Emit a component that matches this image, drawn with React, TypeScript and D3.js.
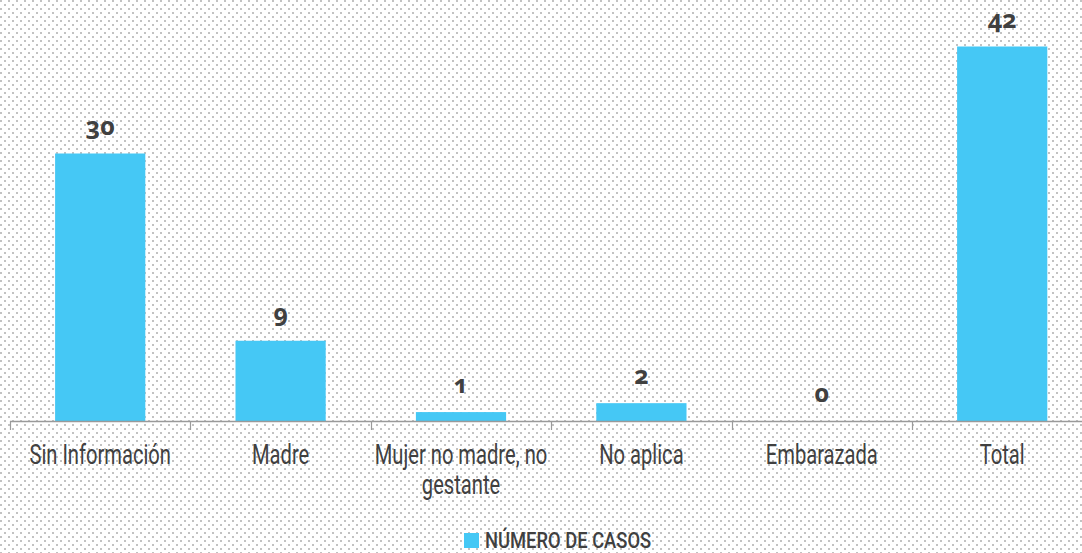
import React, { useEffect, useRef } from 'react';
import * as d3 from 'd3';

const categories = ['Sin Información', 'Madre', 'Mujer no madre, no gestante', 'No aplica', 'Embarazada', 'Total'];
const casos = [30, 9, 1, 2, 0, 42];
const seriesName = 'NÚMERO DE CASOS';

// category labels are wrapped the way the reference shows them
const labelLines: Record<string, string[]> = {
  'Mujer no madre, no gestante': ['Mujer no madre, no', 'gestante'],
};

const WIDTH = 1082;
const HEIGHT = 553;
const BAR_COLOR = '#45c8f5';
const TEXT_COLOR = '#404040';

const App: React.FC = () => {
  const svgRef = useRef<SVGSVGElement>(null);

  useEffect(() => {
    if (!svgRef.current) return;
    const svg = d3.select(svgRef.current);
    svg.selectAll('*').remove();

    // dotted background
    const defs = svg.append('defs');
    const pat = defs.append('pattern')
      .attr('id', 'dots')
      .attr('width', 8)
      .attr('height', 8)
      .attr('patternUnits', 'userSpaceOnUse');
    pat.append('rect').attr('x', 0).attr('y', 0).attr('width', 2).attr('height', 2).attr('fill', '#c2c2c2');
    pat.append('rect').attr('x', 4).attr('y', 4).attr('width', 2).attr('height', 2).attr('fill', '#c2c2c2');
    svg.append('rect').attr('width', WIDTH).attr('height', HEIGHT).attr('fill', '#fff');
    svg.append('rect').attr('width', WIDTH).attr('height', HEIGHT).attr('fill', 'url(#dots)');

    const baseY = 421;
    const x = d3.scaleBand<string>()
      .domain(categories)
      .range([10, 10 + 180.4 * categories.length])
      .paddingInner(0.5)
      .paddingOuter(0.25);

    const y = d3.scaleLinear().domain([0, 42]).range([baseY, 46.5]);

    const step = x.step();
    const left = 10;

    // bars
    svg.selectAll('rect.bar')
      .data(categories)
      .join('rect')
      .attr('class', 'bar')
      .attr('x', d => x(d) || 0)
      .attr('y', (d, i) => y(casos[i]))
      .attr('width', x.bandwidth())
      .attr('height', (d, i) => baseY - y(casos[i]))
      .attr('fill', BAR_COLOR);

    // axis line + ticks
    svg.append('line')
      .attr('x1', left).attr('x2', left + step * categories.length)
      .attr('y1', baseY + 0.5).attr('y2', baseY + 0.5)
      .attr('stroke', '#9a9a9a').attr('stroke-width', 1.5);
    d3.range(categories.length + 1).forEach(i => {
      const tx = Math.round(left + i * step) + 0.5;
      svg.append('line')
        .attr('x1', tx).attr('x2', tx)
        .attr('y1', baseY).attr('y2', baseY + 9)
        .attr('stroke', '#9a9a9a').attr('stroke-width', 1.2);
    });

    // value labels
    svg.selectAll('text.val')
      .data(categories)
      .join('text')
      .attr('class', 'val')
      .attr('x', d => (x(d) || 0) + x.bandwidth() / 2)
      .attr('y', (d, i) => y(casos[i]) - 19)
      .attr('text-anchor', 'middle')
      .attr('font-family', '"Open Sans", sans-serif')
      .attr('font-weight', 700)
      .attr('font-size', 25)
      .style('font-variant-numeric', 'oldstyle-nums')
      .attr('fill', TEXT_COLOR)
      .text((d, i) => String(casos[i]));

    // category labels (condensed)
    categories.forEach(c => {
      const cx = (x(c) || 0) + x.bandwidth() / 2;
      const lines = labelLines[c] || [c];
      const g = svg.append('g').attr('transform', `translate(${cx},464) scale(0.72,1)`);
      lines.forEach((ln, j) => {
        g.append('text')
          .attr('x', 0)
          .attr('y', j * 30)
          .attr('text-anchor', 'middle')
          .attr('font-family', 'Roboto, sans-serif')
          .attr('font-weight', 400)
          .attr('font-size', 28)
          .attr('fill', TEXT_COLOR)
          .text(ln);
      });
    });

    // legend
    svg.append('rect')
      .attr('x', 464).attr('y', 533).attr('width', 15).attr('height', 15)
      .attr('fill', BAR_COLOR);
    svg.append('g')
      .attr('transform', 'translate(485,548) scale(0.835,1)')
      .append('text')
      .attr('font-family', 'Roboto, sans-serif')
      .attr('font-weight', 500)
      .attr('font-size', 22)
      .attr('fill', TEXT_COLOR)
      .text(seriesName);
  }, []);

  return (
    <div style={{ position: 'absolute', left: 0, top: 0, width: WIDTH, height: HEIGHT, overflow: 'hidden' }}>
      <svg ref={svgRef} width={WIDTH} height={HEIGHT} style={{ display: 'block' }} />
    </div>
  );
};

export default App;
